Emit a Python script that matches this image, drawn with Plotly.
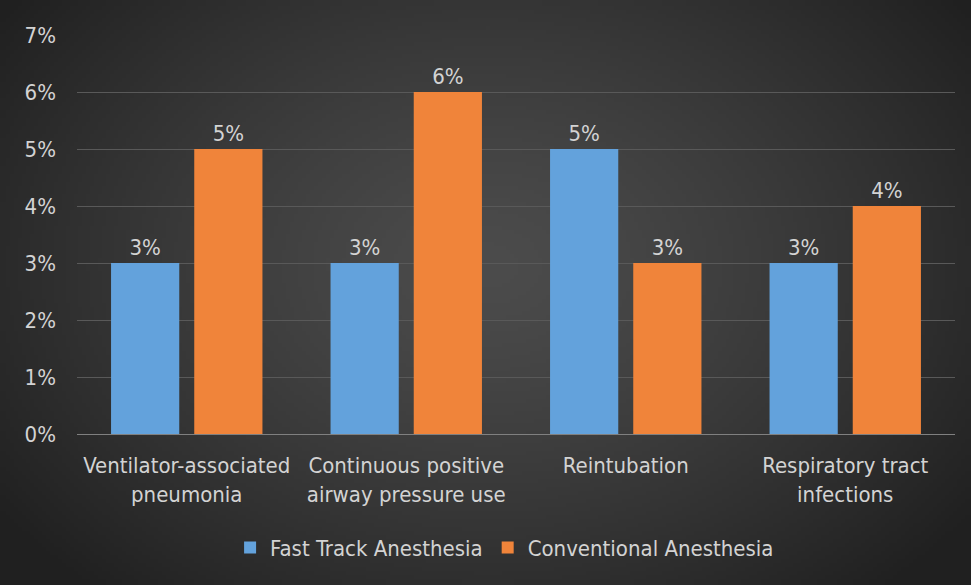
import base64, struct, zlib
import numpy as np
import plotly.graph_objects as go

categories = ["Ventilator-associated<br>pneumonia", "Continuous positive<br>airway pressure use",
              "Reintubation", "Respiratory tract<br>infections"]
fast_track = [3, 3, 5, 3]
conventional = [5, 6, 3, 4]
series_names = ["Fast Track Anesthesia", "Conventional Anesthesia"]
y_ticks = [0, 1, 2, 3, 4, 5, 6, 7]
y_tick_text = ["0%", "1%", "2%", "3%", "4%", "5%", "6%", "7%"]

W, H = 971, 585
ML, MR, MT, MB = 77, 16, 35, 151

# radial gradient background image
def make_png(w, h):
    yy, xx = np.mgrid[0:h, 0:w]
    cx, cy = w * 0.5, h * 0.45
    r = np.sqrt(((xx - cx) / (w * 0.62)) ** 2 + ((yy - cy) / (h * 0.75)) ** 2)
    r = np.clip(r, 0, 1)
    inner, outer = 76, 32
    v = (inner + (outer - inner) * r ** 1.3).astype(np.uint8)
    img = np.stack([v, v, v], axis=-1)
    raw = b"".join(b"\x00" + img[i].tobytes() for i in range(h))
    def chunk(t, d):
        c = struct.pack(">I", len(d)) + t + d
        return c + struct.pack(">I", zlib.crc32(t + d) & 0xffffffff)
    png = b"\x89PNG\r\n\x1a\n" + chunk(b"IHDR", struct.pack(">IIBBBBB", w, h, 8, 2, 0, 0, 0)) \
        + chunk(b"IDAT", zlib.compress(raw, 9)) + chunk(b"IEND", b"")
    return "data:image/png;base64," + base64.b64encode(png).decode()

bg = make_png(243, 146)

font_family = "Liberation Sans Narrow, DejaVu Sans Condensed, Arial Narrow, sans-serif"
txt_color = "#d3d3d3"
FS = 22

fig = go.Figure()
fig.add_trace(go.Bar(x=categories, y=fast_track, name=series_names[0],
                     marker=dict(color="#63a2dc", line=dict(width=0)),
                     text=[f"{v}%" for v in fast_track], textposition="outside",
                     textfont=dict(size=FS, color=txt_color), cliponaxis=False))
fig.add_trace(go.Bar(x=categories, y=conventional, name=series_names[1],
                     marker=dict(color="#f0843a", line=dict(width=0)),
                     text=[f"{v}%" for v in conventional], textposition="outside",
                     textfont=dict(size=FS, color=txt_color), cliponaxis=False))

pw = W - ML - MR
ph = H - MT - MB
fig.add_layout_image(dict(source=bg, xref="paper", yref="paper",
                          x=-ML / pw, y=1 + MT / ph, sizex=W / pw, sizey=H / ph,
                          xanchor="left", yanchor="top", sizing="stretch", layer="below"))

fig.update_layout(
    width=W, height=H,
    margin=dict(l=ML, r=MR, t=MT, b=MB),
    paper_bgcolor="#303030", plot_bgcolor="rgba(0,0,0,0)",
    barmode="group", bargap=0.242, bargroupgap=0.18,
    font=dict(family=font_family, size=FS, color=txt_color),
    showlegend=True,
    legend=dict(orientation="h", x=0.487, xanchor="center", y=-0.285, yanchor="middle",
                font=dict(size=FS, color=txt_color), bgcolor="rgba(0,0,0,0)",
                itemwidth=30, tracegroupgap=0),
    xaxis=dict(showgrid=False, showline=True, linecolor="#808080", linewidth=1,
               tickfont=dict(size=FS, color=txt_color), ticks="", ticklabelstandoff=12),
    yaxis=dict(range=[0, 7], tickvals=y_ticks, ticktext=y_tick_text, showgrid=True,
               gridcolor="#595959", gridwidth=1, zeroline=False, showline=False,
               tickfont=dict(size=FS, color=txt_color), ticks="", ticklabelstandoff=20),
)
fig.write_html("out.html", post_script="document.body.style.margin='0';",
               config={"displayModeBar": False})
